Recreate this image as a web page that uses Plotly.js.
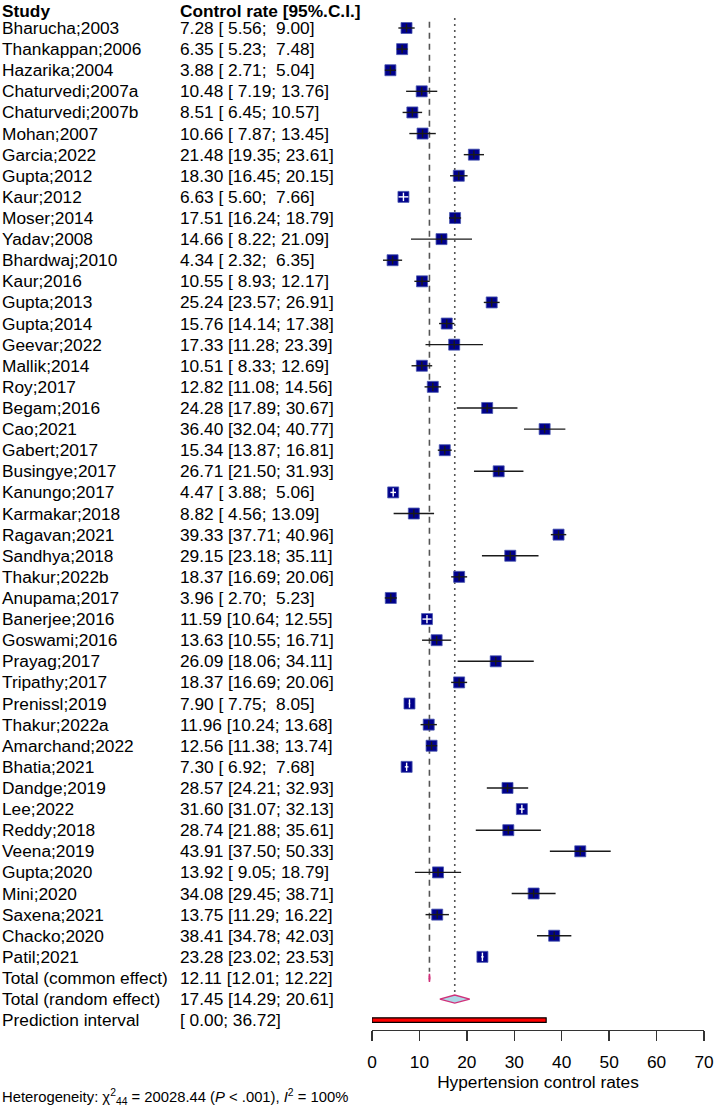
<!DOCTYPE html>
<html>
<head>
<meta charset="utf-8">
<script src="https://cdn.plot.ly/plotly-3.0.1.min.js"></script>
<style>html,body{margin:0;padding:0;background:#fff;}#chart{width:714px;height:1116px;}</style>
</head>
<body>
<div id="chart"></div>
<script>
// ---------------- DATA ----------------
const studies = ["Bharucha;2003","Thankappan;2006","Hazarika;2004","Chaturvedi;2007a","Chaturvedi;2007b","Mohan;2007","Garcia;2022","Gupta;2012","Kaur;2012","Moser;2014","Yadav;2008","Bhardwaj;2010","Kaur;2016","Gupta;2013","Gupta;2014","Geevar;2022","Mallik;2014","Roy;2017","Begam;2016","Cao;2021","Gabert;2017","Busingye;2017","Kanungo;2017","Karmakar;2018","Ragavan;2021","Sandhya;2018","Thakur;2022b","Anupama;2017","Banerjee;2016","Goswami;2016","Prayag;2017","Tripathy;2017","Prenissl;2019","Thakur;2022a","Amarchand;2022","Bhatia;2021","Dandge;2019","Lee;2022","Reddy;2018","Veena;2019","Gupta;2020","Mini;2020","Saxena;2021","Chacko;2020","Patil;2021"];
const est   = [7.28,6.35,3.88,10.48,8.51,10.66,21.48,18.30,6.63,17.51,14.66,4.34,10.55,25.24,15.76,17.33,10.51,12.82,24.28,36.40,15.34,26.71,4.47,8.82,39.33,29.15,18.37,3.96,11.59,13.63,26.09,18.37,7.90,11.96,12.56,7.30,28.57,31.60,28.74,43.91,13.92,34.08,13.75,38.41,23.28];
const lower = [5.56,5.23,2.71,7.19,6.45,7.87,19.35,16.45,5.60,16.24,8.22,2.32,8.93,23.57,14.14,11.28,8.33,11.08,17.89,32.04,13.87,21.50,3.88,4.56,37.71,23.18,16.69,2.70,10.64,10.55,18.06,16.69,7.75,10.24,11.38,6.92,24.21,31.07,21.88,37.50,9.05,29.45,11.29,34.78,23.02];
const upper = [9.00,7.48,5.04,13.76,10.57,13.45,23.61,20.15,7.66,18.79,21.09,6.35,12.17,26.91,17.38,23.39,12.69,14.56,30.67,40.77,16.81,31.93,5.06,13.09,40.96,35.11,20.06,5.23,12.55,16.71,34.11,20.06,8.05,13.68,13.74,7.68,32.93,32.13,35.61,50.33,18.79,38.71,16.22,42.03,23.53];

const summaryLabels = ["Total (common effect)","Total (random effect)","Prediction interval"];
const summaryEst    = [12.11, 17.45, null];
const summaryLower  = [12.01, 14.29, 0.00];
const summaryUpper  = [12.22, 20.61, 36.72];

const headerLabels = ["Study", "Control rate [95%.C.I.]"];
const xTicks = [0,10,20,30,40,50,60,70];
const xTickLabels = ["0","10","20","30","40","50","60","70"];
const xTitle = "Hypertension control rates";
const heterogeneity = "Heterogeneity: \u03c7<sup>2</sup><sub>44</sub> = 20028.44 (<i>P</i> &lt; .001), <i>I</i><sup>2</sup> = 100%";

// ---------------- LAYOUT CONSTANTS ----------------
const W = 714, H = 1116;
const FONT = "Liberation Sans, Arial, Helvetica, sans-serif";
const FS = 17.3;
const rowTopPx = 28, rowPx = 21.11;
const xLeftPx = 372, xRightPx = 704, xMax = 70;
const pxPerUnit = (xRightPx - xLeftPx) / xMax;
const sq = 11;
const axisYPx = 1030;

const yTopVal = 1 - rowTopPx / rowPx;
const yBotVal = 1 + (H - rowTopPx) / rowPx;
const nS = studies.length;
const rows = studies.map((s, i) => i + 1);
const rowCommon = nS + 1, rowRandom = nS + 2, rowPred = nS + 3;

function pad5(v) {
  let s = v.toFixed(2);
  while (s.length < 5) s = "\u00a0" + s;
  return s;
}
function ciText(e, lo, hi) {
  const pre = (e === null) ? "" : e.toFixed(2) + " ";
  return pre + "[" + pad5(lo) + "; " + pad5(hi) + "]";
}

// CI lines: black if wider than square, else white inside
const inside = est.map((e, i) => (upper[i] - lower[i]) * pxPerUnit < sq - 0.5);
function segs(flagWanted) {
  const xs = [], ys = [];
  for (let i = 0; i < nS; i++) {
    if (inside[i] === flagWanted) { xs.push(lower[i], upper[i], null); ys.push(rows[i], rows[i], null); }
  }
  return {xs, ys};
}
const blackSeg = segs(false), whiteSeg = segs(true);
const tickB = {x: [], y: []}, tickW = {x: [], y: []};
for (let i = 0; i < nS; i++) {
  const t = inside[i] ? tickW : tickB;
  t.x.push(est[i]); t.y.push(rows[i]);
}

const dH = 4 / rowPx;      // diamond half-height in row units
const pH = 2.3 / rowPx;    // prediction bar half-height
function diamond(k, row) {
  return {
    x: [summaryLower[k], summaryEst[k], summaryUpper[k], summaryEst[k], summaryLower[k]],
    y: [row, row - dH, row, row + dH, row]
  };
}
const dC = diamond(0, rowCommon), dR = diamond(1, rowRandom);

const traces = [
  {x: est, y: rows, type: "scatter", mode: "markers", hoverinfo: "skip",
   marker: {symbol: "square", size: sq, color: "#00008B", line: {width: 0.8, color: "#4a58b0"}}},
  {x: blackSeg.xs, y: blackSeg.ys, type: "scatter", mode: "lines", hoverinfo: "skip",
   line: {color: "#1a1a1a", width: 1.4}},
  {x: whiteSeg.xs, y: whiteSeg.ys, type: "scatter", mode: "lines", hoverinfo: "skip",
   line: {color: "#ffffff", width: 1.4}},
  {x: tickB.x, y: tickB.y, type: "scatter", mode: "markers", hoverinfo: "skip",
   marker: {symbol: "line-ns", size: 6, line: {width: 1.4, color: "#1a1a1a"}}},
  {x: tickW.x, y: tickW.y, type: "scatter", mode: "markers", hoverinfo: "skip",
   marker: {symbol: "line-ns", size: 6, line: {width: 1.4, color: "#ffffff"}}},
  {x: dC.x, y: dC.y, type: "scatter", mode: "lines", fill: "toself", fillcolor: "#ADD8E6",
   line: {color: "#D0307A", width: 1.4}, hoverinfo: "skip"},
  {x: dR.x, y: dR.y, type: "scatter", mode: "lines", fill: "toself", fillcolor: "#ADD8E6",
   line: {color: "#D0307A", width: 1.4}, hoverinfo: "skip"},
  {x: [summaryLower[2], summaryUpper[2], summaryUpper[2], summaryLower[2], summaryLower[2]],
   y: [rowPred - pH, rowPred - pH, rowPred + pH, rowPred + pH, rowPred - pH],
   type: "scatter", mode: "lines", fill: "toself", fillcolor: "#FF0000",
   line: {color: "#000000", width: 1.2}, hoverinfo: "skip"}
];

// Annotations: text columns
const col1 = 1 / W, col2 = 179 / W;
const ann = [];
function addText(x, y, yref, yanchor, text, size) {
  ann.push({x: x, xref: "paper", y: y, yref: yref, xanchor: "left", yanchor: yanchor, showarrow: false,
            borderpad: 0, text: text, font: {family: FONT, size: size || FS, color: "#000"}});
}
addText(col1, 1, "paper", "top", "<b>" + headerLabels[0] + "</b>");
addText(col2, 1, "paper", "top", "<b>" + headerLabels[1] + "</b>");
for (let i = 0; i < nS; i++) {
  addText(col1, rows[i], "y", "middle", studies[i]);
  addText(col2, rows[i], "y", "middle", ciText(est[i], lower[i], upper[i]));
}
const sRows = [rowCommon, rowRandom, rowPred];
for (let k = 0; k < 3; k++) {
  addText(col1, sRows[k], "y", "middle", summaryLabels[k]);
  addText(col2, sRows[k], "y", "middle", ciText(summaryEst[k], summaryLower[k], summaryUpper[k]));
}
addText(1 / W, 1 - 1097 / H, "paper", "middle", heterogeneity, 14.8);

const shapes = [
  {type: "line", layer: "below", xref: "x", yref: "y", x0: summaryEst[0], x1: summaryEst[0],
   y0: 0.7, y1: rowCommon - dH - 0.1, line: {color: "#555", width: 1.6, dash: "6px,5px"}},
  {type: "line", layer: "below", xref: "x", yref: "y", x0: summaryEst[1], x1: summaryEst[1],
   y0: 0.53, y1: rowRandom - dH, line: {color: "#555", width: 1.6, dash: "2px,4px"}}
];

const layout = {
  width: W, height: H,
  margin: {l: 0, r: 0, t: 0, b: 0, pad: 0},
  paper_bgcolor: "#fff", plot_bgcolor: "rgba(0,0,0,0)",
  showlegend: false,
  font: {family: FONT, size: FS, color: "#000"},
  xaxis: {
    domain: [xLeftPx / W, xRightPx / W], range: [0, xMax], anchor: "free", position: (H - axisYPx) / H,
    showline: true, linecolor: "#333", linewidth: 1.3, ticks: "outside", ticklen: 10, tickwidth: 1.3, tickcolor: "#333",
    ticklabelstandoff: 6,
    tickvals: xTicks, ticktext: xTickLabels, tickfont: {family: FONT, size: FS, color: "#000"},
    showgrid: false, zeroline: false, fixedrange: true,
    title: {text: xTitle, font: {family: FONT, size: FS, color: "#000"}, standoff: 4}
  },
  yaxis: {domain: [0, 1], range: [yBotVal, yTopVal], visible: false, showgrid: false, zeroline: false, fixedrange: true},
  annotations: ann,
  shapes: shapes
};

Plotly.newPlot("chart", traces, layout, {staticPlot: true, displayModeBar: false});
</script>
</body>
</html>
